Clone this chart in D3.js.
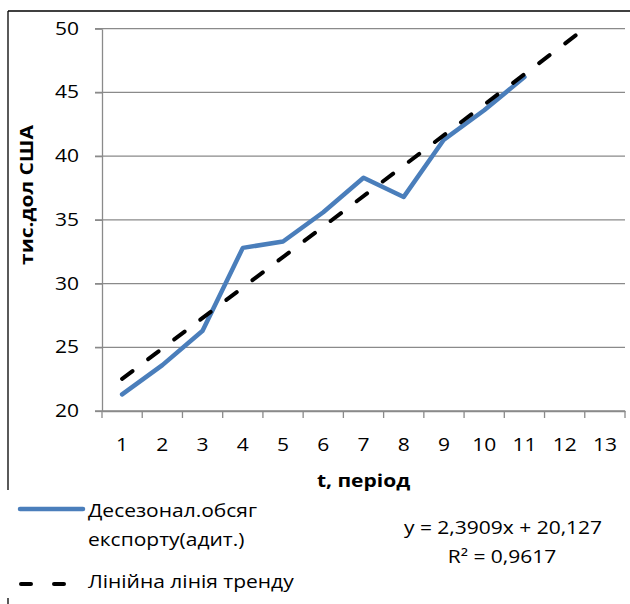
<!DOCTYPE html>
<html>
<head>
<meta charset="utf-8">
<script src="https://cdn.jsdelivr.net/npm/d3@7"></script>
<style>
  body { margin: 0; background: #fff; }
  text { font-family: "Open Sans", sans-serif; fill: #000; }
</style>
</head>
<body>
<div class="chart"></div>
<script>
// data
const periods = [1, 2, 3, 4, 5, 6, 7, 8, 9, 10, 11, 12, 13];
const exportValues = [21.3, 23.6, 26.3, 32.8, 33.3, 35.6, 38.3, 36.8, 41.3, 43.6, 46.2];
const yTicks = [20, 25, 30, 35, 40, 45, 50];
// trend y = a*x + b, drawn from period 1 up to 12.5
const trendA = 2.3909, trendB = 20.127;
const trendRange = [1, 12.5];
const seriesName = ["Десезонал.обсяг", "експорту(адит.)"];
const trendName = "Лінійна лінія тренду";
const eqLines = ["y = 2,3909x + 20,127", "R² = 0,9617"];

const W = 630, H = 604;
const plotL = 102, plotR = 625, plotT = 28.7, plotB = 411;
const sx = 1.2;      // the original picture is stretched sideways
const fs = 17.5;

const svg = d3.select(".chart").append("svg")
  .attr("width", W).attr("height", H);

// stretched text helper
function label(g, x, y, str, anchor, opts) {
  const t = g.append("text")
    .attr("transform", `translate(${x},${y}) scale(${sx},1)`)
    .attr("text-anchor", anchor || "start")
    .attr("font-size", fs)
    .text(str);
  if (opts && opts.bold) t.attr("font-weight", "bold");
  return t;
}

// outer frame (partly hidden behind legend)
svg.append("line").attr("x1", 8).attr("x2", W).attr("y1", 11).attr("y2", 11)
   .attr("stroke", "#000").attr("stroke-width", 1.3);
svg.append("line").attr("x1", 8).attr("x2", 8).attr("y1", 11).attr("y2", 490)
   .attr("stroke", "#000").attr("stroke-width", 1.3);
svg.append("line").attr("x1", 8).attr("x2", 8).attr("y1", 598).attr("y2", H)
   .attr("stroke", "#000").attr("stroke-width", 1.3);

const x = d3.scaleBand().domain(periods).range([plotL, plotR]).padding(0);
const xNum = d3.scaleLinear()
  .domain([periods[0] - 0.5, periods[periods.length - 1] + 0.5])
  .range([plotL, plotR]);
const y = d3.scaleLinear().domain([20, 50]).range([plotB, plotT]);

// gridlines
svg.append("g").selectAll("line").data(yTicks).enter().append("line")
  .attr("x1", plotL - 7).attr("x2", plotR)
  .attr("y1", d => y(d)).attr("y2", d => y(d))
  .attr("stroke", "#8a8a8a").attr("stroke-width", 1.3);

// y axis
const yAxis = svg.append("g").attr("transform", `translate(${plotL},0)`)
  .call(d3.axisLeft(y).tickValues(yTicks).tickSize(7).tickSizeOuter(0).tickPadding(16));
yAxis.selectAll("path, line").attr("stroke", "#8a8a8a").attr("stroke-width", 1.3);
yAxis.selectAll("text").remove();
yTicks.forEach(v => label(svg, plotL - 23, y(v) + 6, v, "end"));

// x axis with ticks on the band edges
const xAxis = svg.append("g").attr("transform", `translate(0,${plotB})`)
  .call(d3.axisBottom(x).tickSize(0).tickSizeOuter(0));
xAxis.selectAll("path").attr("stroke", "#8a8a8a").attr("stroke-width", 1.3);
xAxis.selectAll("text").remove();
const edges = periods.map(d => x(d)).concat([plotR]);
xAxis.selectAll(".edge").data(edges).enter().append("line")
  .attr("x1", d => d).attr("x2", d => d).attr("y1", 0).attr("y2", 7)
  .attr("stroke", "#8a8a8a").attr("stroke-width", 1.3);
periods.forEach(p => label(svg, x(p) + x.bandwidth() / 2, 451, p, "middle"));

// axis titles
label(svg, (plotL + plotR) / 2, 487, "t, період", "middle", { bold: true });
svg.append("text")
  .attr("transform", "translate(33,195) rotate(-90) scale(1.2,1)")
  .attr("text-anchor", "middle").attr("font-size", fs).attr("font-weight", "bold")
  .text("тис.дол США");

// series line
const line = d3.line()
  .x((d, i) => x(periods[i]) + x.bandwidth() / 2)
  .y(d => y(d));
svg.append("path").datum(exportValues)
  .attr("d", line).attr("fill", "none")
  .attr("stroke", "#4a7ebb").attr("stroke-width", 4.5)
  .attr("stroke-linejoin", "round").attr("stroke-linecap", "round");

// trend line
const trendLine = d3.line().x(d => xNum(d)).y(d => y(trendA * d + trendB));
svg.append("path").datum(trendRange)
  .attr("d", trendLine).attr("fill", "none")
  .attr("stroke", "#000").attr("stroke-width", 4)
  .attr("stroke-dasharray", "13,19.7").attr("stroke-linecap", "round");

// legend
const lg = svg.append("g");
lg.append("line").attr("x1", 20).attr("x2", 83).attr("y1", 509).attr("y2", 509)
  .attr("stroke", "#4a7ebb").attr("stroke-width", 4.5).attr("stroke-linecap", "round");
label(lg, 88, 517, seriesName[0]);
label(lg, 88, 546, seriesName[1]);
lg.append("line").attr("x1", 21).attr("x2", 68).attr("y1", 584).attr("y2", 584)
  .attr("stroke", "#000").attr("stroke-width", 4)
  .attr("stroke-dasharray", "10,23").attr("stroke-linecap", "round");
label(lg, 88, 588, trendName);

// trend equation
label(svg, 503, 534, eqLines[0], "middle");
label(svg, 502, 563, eqLines[1], "middle");
</script>
</body>
</html>
